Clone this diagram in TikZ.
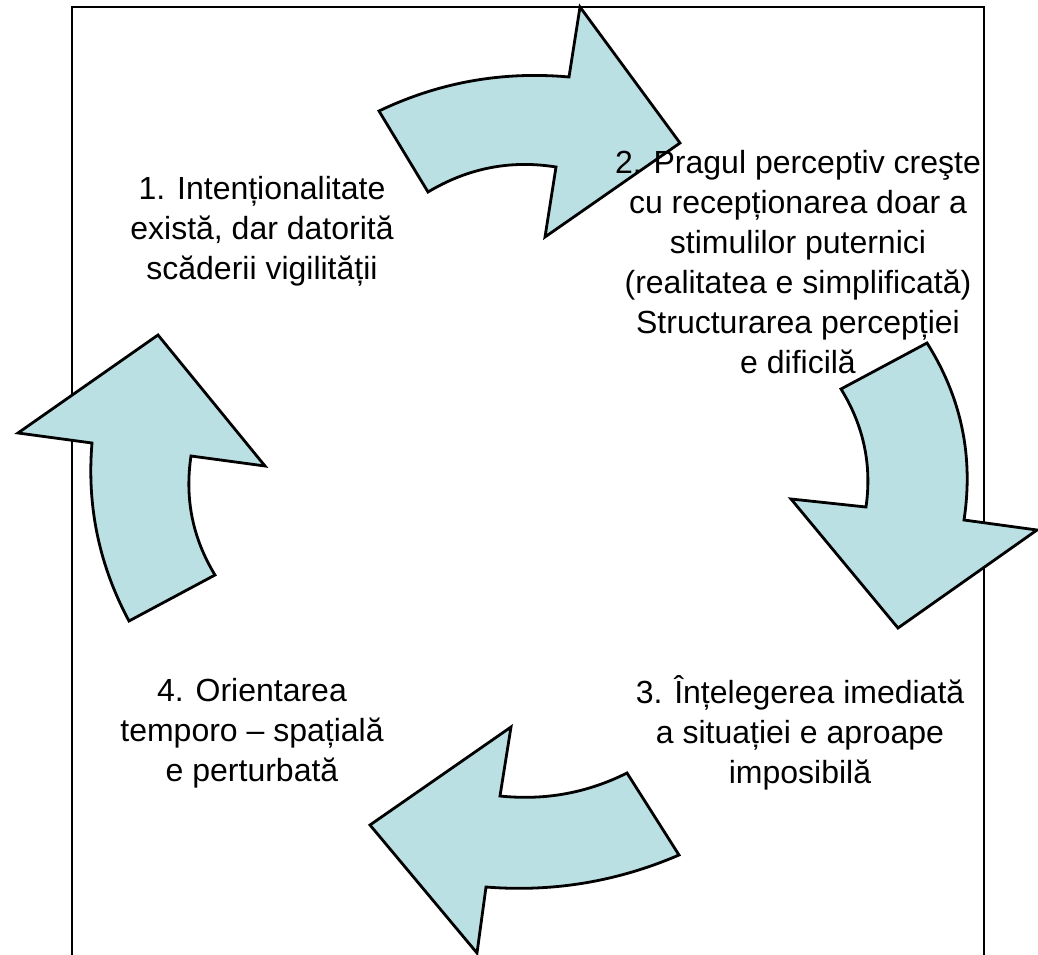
\documentclass[tikz,border=0pt]{standalone}
\usepackage{fontspec}
\setmainfont{Liberation Sans}
\definecolor{arrowfill}{RGB}{187,224,227}
\begin{document}
\begin{tikzpicture}[x=1pt,y=-1pt,
  cyclearrow/.style={draw=black,line width=2.8pt,fill=arrowfill,line join=miter},
  frameline/.style={draw=black,line width=2.8pt},
  label/.style={align=center,inner sep=0pt,font=\fontsize{32}{40}\selectfont}]
\useasboundingbox (0,0) rectangle (1038,955);
% frame
\draw[frameline] (72,960) -- (72,7) -- (984,7) -- (984,960);
% arrow 1 -> 2 (top)
\draw[cyclearrow] (379,111) .. controls (439,82.3) and (502.3,71) .. (569,77) -- (580,7) -- (680,143)
  -- (545,237) -- (556,167) .. controls (510.7,159.7) and (468,168) .. (428,192) -- cycle;
% arrow 2 -> 3 (right)
\draw[cyclearrow] (927,343) .. controls (961.3,397.3) and (973.7,456.3) .. (964,520) -- (1037,530) -- (898,628)
  -- (791,499) -- (866,507) .. controls (872,465) and (863.7,425.7) .. (841,389) -- cycle;
% arrow 3 -> 4 (bottom)
\draw[cyclearrow] (679,855) .. controls (617,881.7) and (552.7,892.3) .. (486,887) -- (477,953) -- (370,825)
  -- (511,727) -- (500,796) .. controls (544.7,800.7) and (587,793) .. (627,773) -- cycle;
% arrow 4 -> 1 (left)
\draw[cyclearrow] (129,621) .. controls (99,565) and (86.7,505.7) .. (92,443) -- (18,433) -- (158,335)
  -- (265,466) -- (191,456) .. controls (184.6,498.6) and (192.6,538.3) .. (215,575) -- cycle;
% texts
\node[label] (t1) at (262,231) {1. Intenționalitate\\există, dar datorită\\scăderii vigilității};
\node[label] (t2) at (798,262) {2. Pragul perceptiv creşte\\cu recepționarea doar a\\stimulilor puternici\\(realitatea e simplificată)\\Structurarea percepției\\e dificilă};
\node[label] (t3) at (800,733) {3. Înțelegerea imediată\\a situației e aproape\\imposibilă};
\node[label] (t4) at (252,733) {4. Orientarea\\temporo – spațială\\e perturbată};
\end{tikzpicture}
\end{document}
